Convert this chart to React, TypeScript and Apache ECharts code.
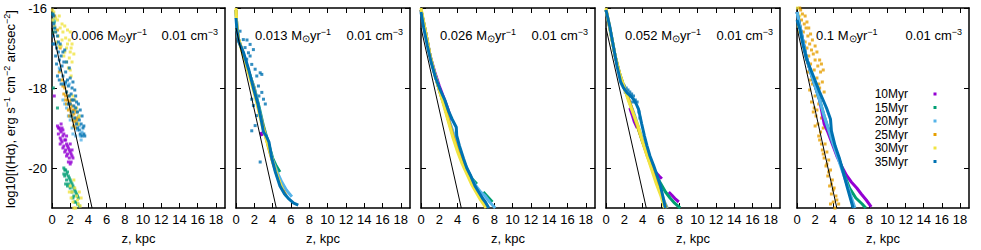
import React, { useEffect, useRef } from "react";
import * as echarts from "echarts";

const FONT = "Liberation Sans";

const seriesNames = ["10Myr", "15Myr", "20Myr", "25Myr", "30Myr", "35Myr"];
const seriesColors = ["#9400d3", "#009e73", "#56b4e9", "#e69f00", "#f0e442", "#0072b2"];
const rates = ["0.006", "0.013", "0.026", "0.052", "0.1"];
const density = "0.01";
const xTicks = [0, 2, 4, 6, 8, 10, 12, 14, 16, 18];
const yTicks = [-20, -18, -16];
const refLine = [[0, -16.5], [4.4, -21]];

// ---------- Panel 1 (0.006) : scattered dots ----------
const p1_10 = [[0.25, -18.2], [0.6, -18.95], [0.8, -19.0], [0.7, -19.15], [1.0, -19.1], [0.9, -19.25], [1.2, -19.2], [1.1, -19.35], [1.4, -19.3], [1.3, -19.45], [1.6, -19.4], [1.5, -19.55], [1.8, -19.5], [1.7, -19.65], [2.0, -19.6], [1.9, -19.75], [2.2, -19.7], [2.1, -19.85], [1.2, -19.05], [2.0, -19.4], [0.9, -19.4], [1.4, -19.6], [1.0, -18.9], [1.6, -19.2], [2.2, -19.55], [0.7, -19.0], [0.9, -19.05], [1.3, -19.15], [1.5, -19.3], [1.7, -19.45], [1.9, -19.55], [2.1, -19.65], [2.3, -19.75], [1.0, -19.3], [1.2, -19.5], [1.6, -19.7], [1.8, -19.85], [2.0, -19.9], [1.1, -19.0]];
const p1_15 = [[0.1, -16.15], [0.25, -16.35], [0.15, -16.6], [0.3, -16.5], [0.15, -18.0], [0.6, -18.5], [1.3, -20.0], [1.5, -20.05], [1.4, -20.2], [1.7, -20.1], [1.6, -20.3], [1.9, -20.25], [1.8, -20.4], [2.1, -20.35], [2.0, -20.5], [2.3, -20.45], [2.2, -20.6], [2.5, -20.55], [2.4, -20.7], [2.7, -20.65], [2.9, -20.75], [2.6, -20.85], [3.0, -20.95], [1.5, -20.4], [2.8, -20.9], [1.4, -20.05], [1.6, -20.15], [1.8, -20.2], [2.0, -20.3], [2.2, -20.4], [2.4, -20.5], [2.6, -20.6], [2.8, -20.7], [1.7, -20.45], [2.3, -20.75], [2.5, -20.85], [1.3, -20.15], [0.2, -16.3]];
const p1_20 = [[0.2, -16.3], [0.5, -16.9], [0.8, -17.5], [1.2, -18.3], [1.6, -18.5], [1.9, -17.9], [2.0, -18.8], [2.2, -19.0], [2.4, -18.95], [2.6, -19.2], [2.8, -19.05], [3.1, -19.2], [3.3, -19.1], [1.8, -18.7], [2.9, -18.7], [1.4, -18.4], [2.1, -18.6], [2.5, -18.8], [3.0, -18.95], [3.2, -19.3], [2.3, -19.15], [1.5, -17.9], [2.7, -18.85]];
const p1_25 = [[0.3, -16.2], [0.6, -16.55], [0.9, -17.0], [0.8, -17.6], [1.1, -17.8], [1.4, -18.0], [1.3, -18.15], [1.5, -18.2], [1.7, -18.3], [1.6, -18.4], [1.9, -18.35], [2.0, -18.5], [2.2, -18.45], [2.1, -18.6], [2.4, -18.65], [2.3, -18.8], [2.6, -18.75], [2.8, -18.9], [1.8, -18.55], [2.5, -18.55], [1.9, -18.7], [2.7, -18.6], [1.6, -18.1], [1.8, -18.2], [2.1, -18.3], [2.3, -18.55], [2.5, -18.85], [2.7, -18.8], [2.9, -18.75], [2.2, -18.7], [1.5, -18.3], [1.2, -17.95], [2.0, -18.4], [2.6, -19.0], [2.4, -18.95]];
const p1_30 = [[0.05, -16.05], [0.2, -16.1], [0.4, -16.25], [0.6, -16.3], [0.3, -16.45], [0.9, -16.5], [1.2, -16.6], [0.7, -16.7], [1.5, -16.75], [1.9, -16.8], [2.2, -16.9], [1.0, -16.95], [1.6, -17.0], [2.0, -17.1], [0.5, -16.85], [1.3, -17.2], [2.2, -17.35], [1.8, -17.5], [2.1, -17.7], [1.1, -16.4], [1.7, -16.55], [2.3, -18.2], [2.7, -18.5], [3.0, -18.7], [2.0, -20.45], [2.2, -20.6], [2.5, -20.5], [2.7, -20.7], [2.3, -20.85], [2.9, -20.9], [3.1, -20.95], [2.6, -21.0], [2.1, -20.75], [3.0, -20.6], [0.1, -16.3], [0.8, -16.2], [1.4, -16.45], [2.0, -16.6], [0.4, -16.6], [1.1, -16.8], [1.7, -16.9], [0.8, -16.95], [1.4, -17.1], [2.1, -17.0], [1.9, -17.25], [2.4, -17.15], [1.6, -17.35], [2.0, -17.55], [2.4, -20.3], [2.8, -20.8], [2.4, -21.0], [3.2, -20.75], [1.9, -20.6], [2.5, -18.3], [2.9, -18.9]];
const p1_35 = [[0.1, -16.15], [0.2, -16.4], [0.15, -16.7], [0.3, -16.9], [0.5, -17.0], [0.4, -17.2], [0.7, -17.1], [0.8, -17.3], [1.0, -17.2], [1.1, -17.45], [1.3, -17.35], [0.9, -17.55], [1.5, -17.6], [1.2, -17.7], [1.7, -17.8], [2.0, -17.75], [1.8, -17.95], [2.2, -18.0], [1.0, -17.9], [2.4, -18.3], [2.0, -18.4], [2.6, -18.5], [2.3, -18.6], [2.8, -18.6], [2.5, -18.75], [3.0, -18.8], [2.7, -18.9], [3.2, -18.9], [3.0, -19.05], [3.4, -19.0], [3.5, -19.15], [3.3, -19.2], [2.9, -18.4], [1.6, -18.1], [0.6, -17.7], [3.6, -19.2], [2.1, -18.7], [1.4, -17.05], [0.3, -16.5], [2.6, -18.2], [0.6, -16.7], [0.9, -16.9], [1.9, -18.2], [0.2, -16.2], [0.4, -16.6], [0.7, -16.85], [1.2, -17.1], [1.6, -17.35], [1.9, -17.5], [0.5, -17.4], [1.3, -17.9], [2.3, -17.85], [1.5, -17.85], [2.1, -18.15], [2.5, -18.05], [2.7, -18.35], [3.1, -18.55], [3.3, -18.7], [3.1, -19.15], [2.8, -19.0], [3.5, -18.95], [2.4, -18.45], [2.2, -18.3], [1.8, -18.4], [0.8, -17.8], [0.1, -16.9]];

// ---------- Panel 2 (0.013) ----------
const p2_10 = [[2.7, -19.1], [2.85, -19.2]];
const p2_15 = [[0, -16.05], [0.1, -16.5], [0.3, -16.8], [0.8, -17.15], [1.4, -17.6], [2.0, -18.0], [2.5, -18.45], [3.0, -18.95], [3.5, -19.35], [4.0, -19.75], [4.4, -19.95], [4.8, -20.1]];
const p2_20 = [[0, -16.05], [0.1, -16.5], [0.3, -16.8], [0.8, -17.15], [1.4, -17.6], [2.0, -18.0], [2.5, -18.5], [3.0, -19.0], [3.5, -19.4], [4.0, -19.8], [4.5, -20.1], [5.0, -20.35], [5.5, -20.55], [6.1, -20.72]];
const p2_25 = [[0, -16.05], [0.1, -16.5], [0.3, -16.8], [0.8, -17.15], [1.4, -17.6], [2.0, -18.05], [2.5, -18.55], [3.0, -19.0], [3.5, -19.45], [4.0, -19.85], [4.5, -20.2], [5.0, -20.5], [5.5, -20.7]];
const p2_30 = [[0, -16.0], [0.1, -16.5], [0.3, -16.8], [0.8, -17.2], [1.4, -17.65], [1.9, -18.05], [2.4, -18.5], [2.8, -18.9], [3.2, -19.2], [3.6, -19.5], [4.1, -19.9], [4.6, -20.25], [5.1, -20.55]];
const p2_35 = [[0, -16.25], [0.1, -16.55], [0.3, -16.85], [0.8, -17.1], [1.4, -17.55], [1.9, -18.0], [2.4, -18.4], [2.8, -18.85], [3.0, -19.1], [3.3, -19.2], [3.6, -19.35], [3.9, -19.75], [4.3, -20.1], [4.8, -20.45], [5.3, -20.65], [5.8, -20.78], [6.3, -20.88], [6.8, -20.93]];
const p2_35dots = [[0.99, -16.99], [1.36, -17.12], [1.54, -17.2], [1.17, -17.28], [1.72, -17.41], [1.9, -17.04], [2.09, -17.53], [2.27, -17.7], [2.64, -17.62], [2.45, -17.95], [2.82, -18.11], [3.0, -18.28], [1.72, -18.28], [1.9, -18.44], [2.27, -18.69], [2.09, -18.94], [1.72, -19.07], [2.64, -19.85], [2.82, -17.66], [0.8, -16.79], [0.44, -16.58], [1.54, -16.91], [3.2, -18.4], [2.5, -18.2], [1.2, -16.8]];

// ---------- Panel 3 (0.026) ----------
const p3_10 = [[0, -16.05], [0.5, -16.6], [1.0, -17.2], [1.5, -17.6], [2.0, -17.95], [2.5, -18.25], [2.9, -18.5], [3.3, -18.8]];
const p3_15a = [[0, -16.05], [0.5, -16.6], [1.0, -17.2], [1.5, -17.65], [2.0, -18.05], [2.5, -18.4], [3.0, -18.8], [3.5, -19.15], [4.0, -19.5], [4.5, -19.8], [5.0, -20.05], [5.5, -20.25], [6.1, -20.4]];
const p3_15b = [[6.8, -20.6], [7.2, -20.7], [7.8, -20.85]];
const p3_20 = [[0, -16.05], [0.5, -16.6], [1.0, -17.2], [1.5, -17.65], [2.0, -18.05], [2.5, -18.4], [3.0, -18.75], [3.5, -19.1], [4.0, -19.45], [4.5, -19.75], [5.0, -20.0], [5.5, -20.25], [6.0, -20.45], [6.5, -20.6], [7.0, -20.7], [7.5, -20.85], [8.1, -21.0]];
const p3_25 = [[0, -16.05], [0.5, -16.6], [1.0, -17.2], [1.5, -17.65], [2.0, -18.05], [2.5, -18.4], [3.0, -18.8], [3.5, -19.2], [4.0, -19.55], [4.5, -19.85], [5.0, -20.1], [5.5, -20.35], [6.0, -20.55], [6.5, -20.75], [7.0, -20.95]];
const p3_30 = [[0, -16.0], [0.5, -16.6], [1.0, -17.2], [1.5, -17.65], [2.0, -18.05], [2.5, -18.45], [3.0, -18.85], [3.5, -19.25], [4.0, -19.6], [4.5, -19.9], [5.0, -20.15], [5.5, -20.4], [6.0, -20.6], [6.5, -20.8], [7.1, -21.0]];
const p3_35 = [[0, -16.1], [0.3, -16.5], [0.7, -16.95], [1.1, -17.35], [1.6, -17.75], [2.1, -18.05], [2.6, -18.3], [3.0, -18.57], [3.4, -18.78], [3.85, -18.98], [3.9, -19.19], [4.2, -19.45], [4.65, -19.77], [5.0, -20.0], [5.4, -20.18], [5.9, -20.45], [6.3, -20.6], [6.7, -20.75], [7.03, -20.85], [7.4, -21.0]];

// ---------- Panel 4 (0.052) ----------
const p4_10a = [[2.6, -18.5], [2.9, -18.7], [3.1, -18.85], [3.4, -19.0]];
const p4_10b = [[5.0, -20.0], [5.4, -20.1], [5.8, -20.2], [6.1, -20.27]];
const p4_10c = [[6.85, -20.6], [7.2, -20.68], [7.6, -20.78], [7.95, -20.85]];
const p4_15 = [[0, -16.05], [0.5, -16.6], [1.0, -17.2], [1.5, -17.65], [2.0, -18.0], [2.5, -18.3], [3.0, -18.65], [3.5, -19.0], [4.0, -19.35], [4.5, -19.65], [5.0, -19.95], [5.5, -20.2], [6.0, -20.4], [6.5, -20.6], [7.0, -20.75], [7.5, -20.88], [8.1, -21.0]];
const p4_20 = [[0, -16.05], [0.5, -16.6], [1.0, -17.2], [1.5, -17.65], [2.0, -18.0], [2.5, -18.3], [3.0, -18.6], [3.5, -18.95], [4.0, -19.3], [4.5, -19.65], [5.0, -19.95], [5.5, -20.3], [6.0, -20.6], [6.4, -20.85], [6.7, -21.0]];
const p4_25 = [[0, -16.05], [0.5, -16.6], [1.0, -17.2], [1.5, -17.65], [2.0, -18.0], [2.5, -18.3], [3.0, -18.65], [3.5, -19.0], [4.0, -19.35], [4.5, -19.7], [5.0, -20.0], [5.5, -20.35], [6.0, -20.65], [6.6, -21.0]];
const p4_30 = [[0, -16.0], [0.5, -16.6], [1.0, -17.2], [1.5, -17.65], [2.0, -18.0], [2.5, -18.35], [3.0, -18.65], [3.5, -18.95], [4.0, -19.35], [4.5, -19.7], [5.0, -20.05], [5.5, -20.4], [6.0, -20.7], [6.4, -21.0]];
const p4_35 = [[0, -16.05], [0.4, -16.45], [0.8, -16.95], [1.2, -17.45], [1.6, -17.85], [1.9, -17.99], [2.3, -18.12], [2.7, -18.2], [3.0, -18.28], [3.3, -18.4], [3.55, -18.53], [3.9, -18.9], [4.2, -19.2], [4.47, -19.44], [4.8, -19.7], [5.2, -19.94], [5.6, -20.2], [5.93, -20.43], [6.2, -20.7], [6.48, -21.0]];
const p4_35dots = [[1.8, -17.85], [2.0, -17.95], [2.2, -18.0], [2.4, -18.05], [2.6, -18.1], [2.8, -18.15], [3.0, -18.2], [3.2, -18.3], [3.4, -18.35], [2.5, -18.2], [2.9, -18.35], [3.6, -18.6], [3.7, -18.75], [2.1, -18.1]];

// ---------- Panel 5 (0.1) ----------
const p5_10 = [[0, -16.1], [0.5, -16.65], [1.0, -17.2], [1.5, -17.6], [2.0, -17.95], [2.5, -18.3], [2.75, -18.6], [3.0, -18.9], [3.4, -19.1], [3.9, -19.4], [4.4, -19.7], [4.9, -19.94], [5.46, -20.18], [6.0, -20.35], [6.6, -20.5], [7.1, -20.65], [7.65, -20.8], [8.2, -20.97]];
const p5_15 = [[0, -16.1], [0.5, -16.65], [1.0, -17.2], [1.5, -17.6], [2.0, -17.95], [2.5, -18.3], [3.0, -18.7], [3.5, -19.05], [4.0, -19.4], [4.6, -19.75], [5.2, -20.15], [5.8, -20.5], [6.5, -20.75], [7.2, -20.9], [7.6, -21.0]];
const p5_20 = [[0, -16.1], [0.5, -16.65], [1.0, -17.2], [1.5, -17.6], [2.0, -17.95], [2.5, -18.3], [3.0, -18.7], [3.5, -19.05], [4.0, -19.4], [4.6, -19.8], [5.2, -20.2], [5.8, -20.6], [6.4, -21.0]];
const p5_25dots = [[0.4, -16.05], [0.6, -16.15], [0.5, -16.3], [0.8, -16.4], [0.7, -16.6], [1.0, -16.5], [1.2, -16.7], [0.9, -16.85], [1.4, -16.9], [1.1, -17.0], [1.6, -17.05], [1.3, -17.2], [1.8, -17.15], [2.0, -17.3], [1.5, -17.4], [2.3, -17.45], [1.9, -17.55], [2.6, -17.6], [2.2, -17.75], [2.8, -17.85], [1.7, -17.9], [2.5, -18.0], [1.4, -18.05], [2.0, -18.2], [1.6, -18.35], [2.4, -18.4], [1.9, -18.5], [2.1, -18.7], [2.7, -18.75], [2.3, -18.9], [2.6, -19.1], [2.9, -19.0], [2.5, -19.3], [3.1, -19.4], [2.8, -19.55], [3.3, -19.6], [3.0, -19.75], [3.5, -19.8], [3.2, -19.95], [3.7, -20.05], [3.4, -20.2], [3.9, -20.3], [3.6, -20.45], [4.1, -20.5], [3.8, -20.65], [4.3, -20.7], [4.0, -20.85], [4.6, -20.9], [4.2, -21.0], [3.0, -18.1], [1.2, -17.6], [0.3, -16.0], [0.9, -16.2], [1.1, -16.35], [1.3, -16.5], [1.5, -16.65], [1.7, -16.8], [2.0, -16.95], [2.2, -17.1], [2.5, -17.3], [2.7, -17.4], [2.9, -17.55], [2.4, -17.9], [1.8, -18.6], [2.2, -18.55], [2.0, -18.95], [2.4, -19.2], [2.7, -19.4], [2.9, -19.65], [3.3, -19.9], [3.5, -20.1], [3.8, -20.4], [4.0, -20.55], [4.4, -20.8], [3.7, -20.9], [1.5, -17.8], [1.1, -17.3]];
const p5_30dots = [[0.05, -16.0], [0.1, -16.15], [0.2, -16.3], [0.15, -16.45], [0.3, -16.2], [0.25, -16.6]];
const p5_35 = [[0, -16.3], [0.33, -16.54], [0.7, -16.95], [1.06, -17.28], [1.8, -17.7], [2.5, -18.1], [3.26, -18.5], [3.7, -18.78], [3.8, -19.07], [4.2, -19.44], [4.7, -19.77], [5.1, -20.1], [5.6, -20.52], [6.2, -21.0]];

// Each layer: [series index, kind, data]
type Layer = [number, "dots" | "band", number[][]];
const panelLayers: Layer[][] = [
  [[0, "dots", p1_10], [1, "dots", p1_15], [2, "dots", p1_20], [3, "dots", p1_25], [4, "dots", p1_30], [5, "dots", p1_35]],
  [[0, "band", p2_10], [1, "band", p2_15], [2, "band", p2_20], [3, "band", p2_25], [4, "band", p2_30], [5, "band", p2_35], [5, "dots", p2_35dots]],
  [[0, "band", p3_10], [1, "band", p3_15a], [1, "band", p3_15b], [2, "band", p3_20], [3, "band", p3_25], [4, "band", p3_30], [5, "band", p3_35]],
  [[0, "band", p4_10a], [0, "band", p4_10b], [0, "band", p4_10c], [1, "band", p4_15], [2, "band", p4_20], [3, "band", p4_25], [4, "band", p4_30], [5, "band", p4_35], [5, "dots", p4_35dots]],
  [[0, "band", p5_10], [1, "band", p5_15], [2, "band", p5_20], [3, "dots", p5_25dots], [4, "dots", p5_30dots], [5, "band", p5_35]],
];

const GRIDS = [
  { left: 52, width: 173 },
  { left: 236, width: 174 },
  { left: 421, width: 174 },
  { left: 606, width: 174 },
  { left: 797, width: 172 },
];
const TOP = 8;
const HEIGHT = 201;

function buildOption() {
  const grid: any[] = [];
  const xAxis: any[] = [];
  const yAxis: any[] = [];
  const series: any[] = [];
  const graphic: any[] = [];
  const axisLine = { show: true, onZero: false, lineStyle: { color: "#000", width: 1.5 } };
  const tickStyle = { color: "#000", width: 1 };
  const txt = { color: "#000", fontFamily: FONT, fontSize: 13 };

  GRIDS.forEach((g, i) => {
    grid.push({ left: g.left, top: TOP, width: g.width, height: HEIGHT, containLabel: false });
    xAxis.push({
      gridIndex: i, type: "value", min: 0, max: 19, position: "bottom",
      axisLine, splitLine: { show: false },
      axisTick: { show: true, inside: true, length: 5, customValues: xTicks, lineStyle: tickStyle },
      axisLabel: { show: true, customValues: xTicks, margin: 5, ...txt },
      name: "z, kpc", nameLocation: "middle", nameGap: 24, nameTextStyle: txt,
    });
    xAxis.push({
      gridIndex: i, type: "value", min: 0, max: 19, position: "top",
      axisLine, splitLine: { show: false },
      axisTick: { show: true, inside: true, length: 5, customValues: xTicks, lineStyle: tickStyle },
      axisLabel: { show: false },
    });
    yAxis.push({
      gridIndex: i, type: "value", min: -21, max: -16, position: "left",
      axisLine, splitLine: { show: false },
      axisTick: { show: true, inside: true, length: 5, customValues: yTicks, lineStyle: tickStyle },
      axisLabel: { show: i === 0, customValues: yTicks, margin: 5, ...txt },
    });
    yAxis.push({
      gridIndex: i, type: "value", min: -21, max: -16, position: "right",
      axisLine, splitLine: { show: false },
      axisTick: { show: true, inside: true, length: 5, customValues: yTicks, lineStyle: tickStyle },
      axisLabel: { show: false },
    });

    panelLayers[i].forEach(([si, kind, data]) => {
      if (kind === "dots") {
        series.push({
          type: "scatter", name: seriesNames[si], xAxisIndex: 2 * i, yAxisIndex: 2 * i,
          data, symbol: "rect", symbolSize: 3, itemStyle: { color: seriesColors[si] }, silent: true,
        });
      } else {
        series.push({
          type: "line", name: seriesNames[si], xAxisIndex: 2 * i, yAxisIndex: 2 * i,
          data, symbol: "none", showSymbol: false, lineStyle: { color: seriesColors[si], width: 3 }, silent: true,
        });
      }
    });
    series.push({
      type: "line", name: "model", xAxisIndex: 2 * i, yAxisIndex: 2 * i,
      data: refLine, symbol: "none", showSymbol: false, lineStyle: { color: "#000", width: 1 }, silent: true,
    });

    const base = { fontFamily: FONT, fill: "#000" };
    const rich = {
      n: { ...base, fontSize: 13, lineHeight: 16 },
      sup: { ...base, fontSize: 9, lineHeight: 10, verticalAlign: "top" },
      sub: { ...base, fontSize: 10, lineHeight: 10, verticalAlign: "bottom" },
    };
    graphic.push({
      type: "text", x: g.left + 19, y: 35, silent: true,
      style: { text: `{n|${rates[i]} M}{sub|⊙}{n|yr}{sup|−1}`, rich, ...base, fontSize: 13, align: "left", verticalAlign: "middle" },
    });
    graphic.push({
      type: "text", x: g.left + g.width - 7, y: 35, silent: true,
      style: { text: `{n|${density} cm}{sup|−3}`, rich, ...base, fontSize: 13, align: "right", verticalAlign: "middle" },
    });
  });

  // y axis title
  const base = { fontFamily: FONT, fill: "#000" };
  graphic.push({
    type: "text", x: 10, y: 109, rotation: Math.PI / 2, silent: true,
    style: {
      text: "{n|log10[I(Hα), erg s}{sup|−1}{n| cm}{sup|−2}{n| arcsec}{sup|−2}{n|]}",
      rich: {
        n: { ...base, fontSize: 13, lineHeight: 16 },
        sup: { ...base, fontSize: 9, lineHeight: 10, verticalAlign: "top" },
      },
      ...base, fontSize: 13, align: "center", verticalAlign: "middle",
    },
  });

  // key (in last panel)
  seriesNames.forEach((name, k) => {
    const y = 94 + 13.5 * k;
    graphic.push({
      type: "text", x: 908, y, silent: true,
      style: { text: name, fontFamily: FONT, fontSize: 12, lineHeight: 12, fill: "#000", align: "right", verticalAlign: "middle" },
    });
    graphic.push({
      type: "rect", shape: { x: 933.5, y: y - 1.5, width: 3, height: 3 }, silent: true,
      style: { fill: seriesColors[k] },
    });
  });

  return { animation: false, backgroundColor: "#fff", grid, xAxis, yAxis, series, graphic };
}

export default function App() {
  const ref = useRef<HTMLDivElement>(null);
  useEffect(() => {
    document.body.style.margin = "0";
    const chart = echarts.init(ref.current as HTMLDivElement, undefined, { renderer: "svg" });
    chart.setOption(buildOption() as any);
    return () => chart.dispose();
  }, []);
  return <div ref={ref} style={{ width: 981, height: 250 }} />;
}
